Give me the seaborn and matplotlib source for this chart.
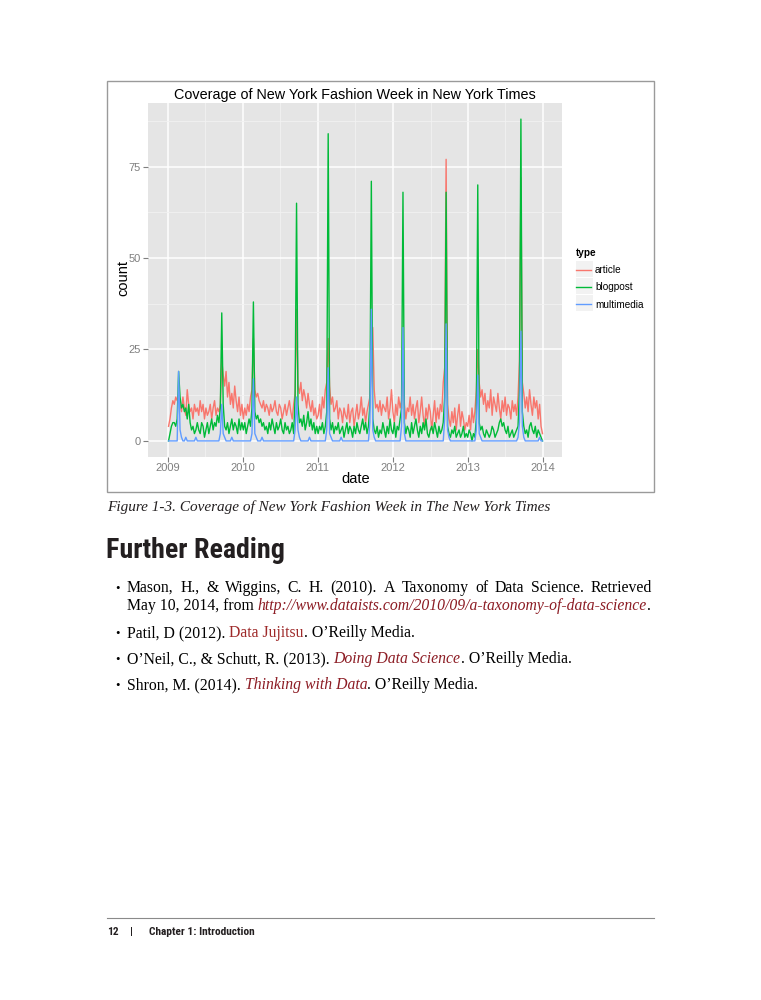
import os
import numpy as np
import pandas as pd
import matplotlib
matplotlib.use('Agg')
import matplotlib.pyplot as plt
import matplotlib.dates as mdates
from matplotlib.patches import Rectangle
from matplotlib.lines import Line2D
from matplotlib import font_manager as fm
import seaborn as sns

# weekly counts, one row per year (week 0 = first Sunday of the year)
article_2009 = [4, 6, 9, 11, 10, 12, 11, 13, 10, 8, 12, 9, 7, 14, 10, 8, 9, 6, 10, 8, 9, 7, 11, 8, 10, 6,
                9, 7, 8, 10, 6, 9, 11, 7, 9, 8, 10, 22, 18, 15, 19, 12, 16, 10, 13, 9, 15, 11, 8, 12, 7, 10]
article_2010 = [6, 9, 7, 10, 8, 12, 14, 28, 14, 12, 13, 11, 10, 9, 11, 8, 10, 9, 7, 10, 8, 9, 11, 8, 7, 10,
                9, 6, 8, 10, 7, 9, 11, 8, 6, 10, 13, 36, 15, 13, 16, 11, 14, 12, 9, 13, 10, 8, 11, 7, 9, 6]
article_2011 = [7, 10, 6, 12, 9, 14, 16, 28, 15, 10, 12, 8, 9, 11, 6, 9, 8, 5, 9, 7, 6, 10, 5, 8, 9, 4,
                7, 10, 6, 8, 12, 7, 9, 5, 8, 10, 12, 20, 31, 14, 9, 10, 8, 11, 7, 10, 9, 8, 12, 6, 9, 14]
article_2012 = [8, 5, 10, 7, 12, 9, 11, 20, 10, 6, 9, 8, 12, 7, 10, 6, 9, 11, 5, 8, 12, 7, 4, 9, 6, 10,
                8, 3, 7, 11, 5, 9, 6, 10, 8, 16, 20, 77, 10, 6, 4, 8, 5, 9, 3, 7, 10, 4, 8, 6, 3, 5]
article_2013 = [4, 7, 3, 9, 5, 8, 14, 25, 16, 12, 14, 10, 13, 8, 11, 9, 14, 7, 12, 10, 8, 13, 9, 6, 11, 8,
                12, 7, 10, 9, 6, 11, 8, 10, 7, 12, 22, 72, 16, 13, 9, 12, 8, 14, 10, 7, 12, 9, 11, 6, 10, 4, 2]

blogpost_2009 = [0, 2, 4, 5, 5, 4, 6, 19, 12, 9, 10, 8, 9, 6, 10, 5, 3, 4, 2, 3, 5, 3, 2, 5, 4, 1,
                 3, 5, 2, 4, 6, 3, 5, 4, 7, 5, 9, 35, 10, 4, 3, 5, 2, 4, 6, 3, 5, 4, 2, 6, 3, 5]
blogpost_2010 = [3, 5, 2, 4, 6, 4, 9, 38, 8, 6, 7, 5, 6, 4, 5, 3, 4, 2, 5, 3, 6, 4, 2, 5, 3, 4,
                 6, 3, 2, 5, 3, 4, 2, 3, 5, 2, 12, 65, 10, 5, 6, 4, 7, 3, 5, 8, 4, 6, 3, 5, 2, 4]
blogpost_2011 = [2, 4, 3, 5, 2, 4, 8, 84, 6, 3, 5, 2, 4, 3, 5, 2, 3, 4, 1, 3, 5, 2, 4, 3, 1, 4,
                 2, 5, 3, 2, 4, 6, 3, 5, 2, 4, 10, 71, 6, 3, 2, 4, 1, 3, 2, 5, 3, 1, 4, 2, 6, 3]
blogpost_2012 = [2, 5, 1, 4, 3, 6, 9, 68, 5, 2, 4, 3, 1, 5, 2, 4, 6, 3, 1, 4, 2, 5, 3, 6, 2, 1,
                 3, 4, 2, 5, 3, 1, 4, 2, 3, 5, 12, 68, 4, 2, 1, 3, 2, 4, 1, 2, 3, 1, 2, 4, 1, 2]
blogpost_2013 = [1, 3, 2, 0, 2, 1, 6, 70, 5, 3, 4, 2, 1, 3, 2, 1, 2, 4, 3, 1, 2, 3, 5, 6, 4, 5,
                 3, 2, 4, 1, 2, 3, 1, 2, 3, 4, 14, 88, 8, 4, 2, 3, 1, 4, 5, 3, 2, 4, 1, 3, 2, 1, 0]

multimedia_2009 = [0, 0, 0, 0, 0, 0, 0, 19, 3, 1, 0, 0, 1, 0, 0, 0, 0, 0, 0, 1, 0, 0, 0, 0, 0, 0,
                   0, 0, 0, 0, 0, 0, 0, 0, 0, 0, 2, 10, 2, 1, 0, 0, 0, 0, 1, 0, 0, 0, 0, 0, 0, 0]
multimedia_2010 = [0, 0, 0, 0, 0, 0, 2, 17, 2, 1, 0, 0, 0, 1, 0, 0, 0, 0, 0, 0, 0, 0, 0, 0, 0, 0,
                   0, 0, 0, 0, 0, 0, 0, 0, 0, 0, 3, 12, 3, 1, 0, 0, 0, 0, 0, 0, 1, 0, 0, 0, 0, 0]
multimedia_2011 = [0, 0, 0, 0, 0, 0, 3, 20, 2, 1, 0, 0, 0, 0, 0, 0, 1, 0, 0, 0, 0, 0, 0, 0, 0, 0,
                   0, 0, 0, 0, 0, 0, 0, 0, 0, 0, 5, 36, 3, 1, 0, 0, 0, 0, 0, 0, 0, 0, 0, 0, 0, 0]
multimedia_2012 = [0, 0, 0, 0, 0, 0, 4, 31, 2, 0, 0, 0, 0, 0, 0, 0, 0, 0, 0, 0, 0, 0, 0, 0, 0, 0,
                   0, 0, 0, 0, 0, 0, 0, 0, 0, 0, 6, 32, 3, 1, 0, 0, 0, 0, 0, 0, 0, 0, 0, 0, 0, 0]
multimedia_2013 = [0, 0, 0, 0, 0, 0, 3, 18, 2, 1, 0, 0, 0, 0, 0, 0, 0, 0, 0, 0, 0, 0, 0, 0, 0, 0,
                   0, 0, 0, 0, 0, 0, 0, 0, 0, 1, 5, 30, 4, 1, 0, 0, 0, 0, 0, 0, 0, 0, 0, 0, 1, 0, 0]

types = ['article', 'blogpost', 'multimedia']
colors = ['#F8766D', '#00BA38', '#619CFF']
year_ticks = [2009, 2010, 2011, 2012, 2013, 2014]
y_ticks = [0, 25, 50, 75]

article = article_2009 + article_2010 + article_2011 + article_2012 + article_2013
blogpost = blogpost_2009 + blogpost_2010 + blogpost_2011 + blogpost_2012 + blogpost_2013
multimedia = multimedia_2009 + multimedia_2010 + multimedia_2011 + multimedia_2012 + multimedia_2013
dates = pd.date_range('2009-01-04', periods=len(article), freq='7D')

df = pd.DataFrame({'date': dates, 'article': article, 'blogpost': blogpost, 'multimedia': multimedia})
df = df.melt(id_vars='date', var_name='type', value_name='count')

W, H = 761, 1000
plt.rcParams['font.family'] = ['Liberation Sans', 'DejaVu Sans']

fig = plt.figure(figsize=(W / 100, H / 100), dpi=100)
fig.patch.set_facecolor('white')


def fx(x):
    return x / W


def fy(y):
    return 1 - y / H


# frame around the figure image
fig.add_artist(Rectangle((fx(107), fy(492)), (654 - 107) / W, (492 - 81) / H, transform=fig.transFigure,
                         fill=False, edgecolor='#9a9a9a', lw=1.0))

ax = fig.add_axes([fx(148), fy(457), (562 - 148) / W, (457 - 103) / H])
sns.lineplot(data=df, x='date', y='count', hue='type', hue_order=types, palette=colors,
             linewidth=1.0, ax=ax, legend=False)

ax.set_facecolor('#E5E5E5')
for s in ax.spines.values():
    s.set_visible(False)
ax.set_axisbelow(True)
ax.set_yticks(y_ticks)
ax.set_yticks([12.5, 37.5, 62.5, 87.5], minor=True)
ax.set_xticks([pd.Timestamp(f'{y}-01-01') for y in year_ticks])
ax.set_xticks([pd.Timestamp(f'{y}-07-02') for y in year_ticks[:-1]], minor=True)
ax.xaxis.set_major_formatter(mdates.DateFormatter('%Y'))
ax.grid(which='major', color='white', lw=1.1)
ax.grid(which='minor', color='#F2F2F2', lw=0.6)
ax.tick_params(which='major', length=3.5, width=0.8, color='#7F7F7F', labelcolor='#7F7F7F',
               labelsize=8, pad=2)
ax.tick_params(axis='x', which='major', pad=1)
ax.tick_params(which='minor', length=0)
ax.set_xlim(pd.Timestamp('2008-09-26'), pd.Timestamp('2014-04-03'))
ax.set_ylim(-4.4, 92.4)
ax.set_xlabel('')
ax.set_ylabel('')

fig.text(fx(355), fy(95), 'Coverage of New York Fashion Week in New York Times', ha='center', va='center',
         fontsize=10.4, color='black')
fig.text(fx(356), fy(479), 'date', ha='center', va='center', fontsize=10.5)
fig.text(fx(123), fy(278), 'count', ha='center', va='center', rotation=90, fontsize=10.5)

# legend, with the light key boxes drawn behind it
for i in range(3):
    fig.add_artist(Rectangle((fx(576), fy(277 + 17 * i)), 17 / W, 16 / H, transform=fig.transFigure,
                             facecolor='#F2F2F2', edgecolor='none', zorder=-1))
handles = [Line2D([], [], color=c, lw=1.0) for c in colors]
leg = ax.legend(handles, types, loc='upper left', bbox_to_anchor=(fx(576), fy(248)),
                bbox_transform=fig.transFigure, frameon=False, fontsize=7.2, title='type',
                title_fontproperties={'weight': 'bold', 'size': 7.2}, alignment='left',
                handlelength=1.45, handletextpad=0.45, labelspacing=0.72, borderpad=0, borderaxespad=0)

# text of the page
renderer = fig.canvas.get_renderer()


def measure(s, **kw):
    t = fig.text(0, 0, '|' + s + '|', **kw)
    w1 = t.get_window_extent(renderer).width
    t.remove()
    t = fig.text(0, 0, '||', **kw)
    w0 = t.get_window_extent(renderer).width
    t.remove()
    return w1 - w0


def find_narrow_bold():
    prefs = ['roboto condensed', 'liberation sans narrow', 'dejavu sans condensed', 'open sans condensed',
             'noto sans condensed', 'noto sans display condensed']
    found = {}
    for f in fm.fontManager.ttflist:
        base = os.path.basename(f.fname).lower()
        name = f.name.lower()
        narrow = ('narrow' in name or 'condensed' in name or 'condensed' in base or 'narrow' in base
                  or f.stretch in ('condensed', 'semi-condensed', 'extra-condensed'))
        bold = 'bold' in base and 'semi' not in base and 'extra' not in base and 'italic' not in base \
            and 'oblique' not in base
        if narrow and bold:
            key = name + (' condensed' if 'condensed' in base and 'condensed' not in name else '')
            found.setdefault(key, f.fname)
    for p in prefs:
        for k, v in found.items():
            if k.startswith(p):
                return fm.FontProperties(fname=v)
    if found:
        return fm.FontProperties(fname=sorted(found.values())[0])
    return fm.FontProperties(family='Liberation Sans', weight='bold')


narrow_fp = find_narrow_bold()


def fit_size(s, target, fp, ref=20):
    p = fp.copy()
    p.set_size(ref)
    return ref * target / measure(s, fontproperties=p)


serif = 'Liberation Serif'
body = 11.35
link = '#8c1c24'


def runs(x, y, parts, size=body):
    for s, style, color in parts:
        kw = dict(fontsize=size, fontfamily=serif, fontstyle=style, color=color)
        fig.text(fx(x), fy(y), s, ha='left', va='baseline', **kw)
        x += measure(s, **kw)


def justify(x0, x1, y, line, size=body):
    words = line.split(' ')
    kw = dict(fontsize=size, fontfamily=serif, color='black')
    widths = [measure(w, **kw) for w in words]
    gap = (x1 - x0 - sum(widths)) / (len(words) - 1)
    x = x0
    for w, wd in zip(words, widths):
        fig.text(fx(x), fy(y), w, ha='left', va='baseline', **kw)
        x += wd + gap


fig.text(fx(107), fy(511), 'Figure 1-3. Coverage of New York Fashion Week in The New York Times',
         fontfamily=serif, fontstyle='italic', fontsize=11, color='#231f20', va='baseline')

head = 'Further Reading'
hp = narrow_fp.copy()
hp.set_size(min(fit_size(head, 178, narrow_fp), 22))
fig.text(fx(106), fy(558), head, fontproperties=hp, color='#231f20', va='baseline')

for yb in [592, 637, 663, 689]:
    fig.text(fx(115), fy(yb), '•', fontfamily=serif, fontsize=9, va='baseline')

justify(127, 652, 592, 'Mason, H., & Wiggins, C. H. (2010). A Taxonomy of Data Science. Retrieved')
runs(127, 610, [('May 10, 2014, from ', 'normal', 'black'),
                ('http://www.dataists.com/2010/09/a-taxonomy-of-data-science', 'italic', link),
                ('.', 'normal', 'black')])
runs(127, 637, [('Patil, D (2012). ', 'normal', 'black'), ('Data Jujitsu', 'normal', '#9e2a2a'),
                ('. O\u2019Reilly Media.', 'normal', 'black')])
runs(127, 663, [('O\u2019Neil, C., & Schutt, R. (2013). ', 'normal', 'black'),
                ('Doing Data Science', 'italic', link), ('. O\u2019Reilly Media.', 'normal', 'black')])
runs(127, 689, [('Shron, M. (2014). ', 'normal', 'black'), ('Thinking with Data', 'italic', link),
                ('. O\u2019Reilly Media.', 'normal', 'black')])

# footer
fig.add_artist(Line2D([fx(107), fx(654)], [fy(918), fy(918)], transform=fig.transFigure,
                      color='#8a8a8a', lw=0.8))
chap = 'Chapter 1: Introduction'
fp_foot = narrow_fp.copy()
fp_foot.set_size(min(fit_size(chap, 105, narrow_fp), 9.5))
foot = dict(fontproperties=fp_foot, color='#231f20', va='baseline')
fig.text(fx(107), fy(935), '12', **foot)
fig.text(fx(130), fy(935), '|', **foot)
fig.text(fx(149), fy(935), chap, **foot)

fig.savefig('out.png', dpi=100)
